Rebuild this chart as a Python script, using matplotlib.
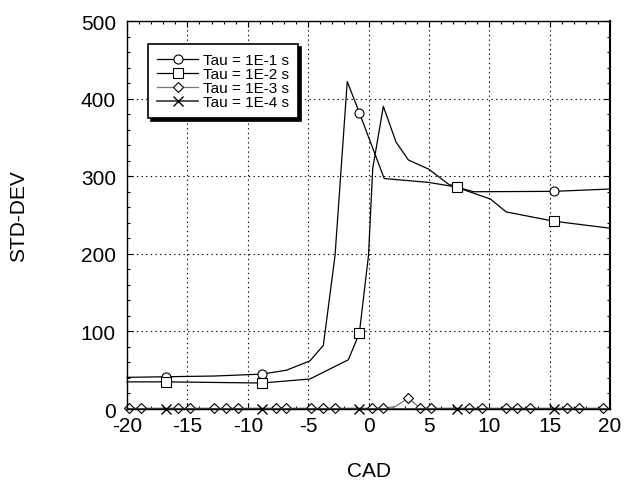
import numpy as np
import matplotlib
matplotlib.use('Agg')
import matplotlib.pyplot as plt
from matplotlib.ticker import MultipleLocator

plt.rcParams['font.family'] = ['Liberation Sans', 'DejaVu Sans']
plt.rcParams['axes.unicode_minus'] = False

# Tau = 1E-1 s (circles)
tau1_x = [-20, -16.8, -12.8, -8.8, -6.8, -4.85, -3.74, -2.77, -1.76, -0.76, 1.3, 5.0, 7.3, 8.7, 15.36, 20]
tau1_y = [40.8, 41.6, 42.5, 45, 50, 62, 82, 198, 422, 382, 297, 292, 286, 280, 280.5, 283.5]
tau1_marks = [1, 3, 9, 12, 14]

# Tau = 1E-2 s (squares)
tau2_x = [-20, -16.8, -8.8, -4.85, -1.67, -0.76, 0.0, 0.35, 1.23, 2.28, 3.3, 5.0, 6.6, 7.3, 10.1, 11.4, 15.36, 20]
tau2_y = [35, 35, 33.5, 38.7, 63.5, 97.5, 198, 310, 390, 344, 321, 309, 290, 285.7, 270.6, 254, 242, 233]
tau2_marks = [1, 2, 5, 13, 16]

# Tau = 1E-3 s (diamonds)
tau3_x = [-19.8, -18.8, -15.8, -14.8, -12.8, -11.8, -10.8, -7.7, -6.8, -4.8, -3.8, -2.8,
          0.25, 1.2, 2.2, 3.3, 4.3, 5.2, 8.3, 9.4, 11.4, 12.3, 13.4, 16.4, 17.4, 19.4]
tau3_y = [1, 1, 1, 1, 1, 1, 1, 1, 1, 1, 1, 1,
          1, 1, 3, 14, 1, 1, 1, 1, 1, 1, 1, 1, 1, 1]
tau3_marks = [i for i in range(len(tau3_x)) if i != 14]

# Tau = 1E-4 s (crosses)
tau4_x = [-20, -16.8, -8.8, -0.76, 7.3, 15.36, 20]
tau4_y = [0, 0, 0, 0, 0, 0, 0]
tau4_marks = [1, 2, 3, 4, 5]

labels = ['Tau = 1E-1 s', 'Tau = 1E-2 s', 'Tau = 1E-3 s', 'Tau = 1E-4 s']

fig = plt.figure(figsize=(6.25, 4.85), dpi=100)
ax = fig.add_axes([0.2032, 0.1546, 0.7728, 0.8])

mk = dict(markerfacecolor='white', markeredgecolor='black', markeredgewidth=0.8, clip_on=False)
ax.plot(tau1_x, tau1_y, color='black', lw=0.9, marker='o', ms=6.5, markevery=tau1_marks, label=labels[0], **mk)
ax.plot(tau2_x, tau2_y, color='black', lw=0.9, marker='s', ms=6.5, markevery=tau2_marks, label=labels[1], **mk)
ax.plot(tau3_x, tau3_y, color='#777777', lw=0.9, marker='D', ms=5.5, markevery=tau3_marks, label=labels[2], **mk)
ax.plot(tau4_x, tau4_y, color='#333333', lw=1.2, marker='x', ms=6.5, markevery=tau4_marks,
        markeredgecolor='black', label=labels[3], clip_on=False)

ax.set_xlim(-20, 20)
ax.set_ylim(0, 500)
ax.xaxis.set_major_locator(MultipleLocator(5))
ax.xaxis.set_minor_locator(MultipleLocator(1))
ax.yaxis.set_major_locator(MultipleLocator(100))
ax.yaxis.set_minor_locator(MultipleLocator(20))
ax.tick_params(which='both', direction='in', top=True, right=True, width=0.8)
ax.tick_params(which='major', length=4.5)
ax.tick_params(which='minor', length=2.5)
ax.tick_params(axis='x', labelsize=15, pad=5)
ax.tick_params(axis='y', labelsize=15, pad=8)
ax.grid(True, which='major', color='black', linestyle=(0, (1.2, 3)), linewidth=0.8)
for s in ax.spines.values():
    s.set_linewidth(1.0)
ax.spines['right'].set_linewidth(1.5)

ax.set_xlabel('CAD', fontsize=15)
ax.set_ylabel('STD-DEV', fontsize=15)
ax.xaxis.set_label_coords(0.5, -0.135)
ax.yaxis.set_label_coords(-0.205, 0.5)

leg = ax.legend(loc='upper left', bbox_to_anchor=(0.0435, 0.941), borderaxespad=0,
                fontsize=11, fancybox=False, shadow={'color': 'black', 'alpha': 1},
                edgecolor='black', framealpha=1, labelspacing=0.0, handlelength=2.7,
                handletextpad=0.3, borderpad=0.6)
leg.get_frame().set_linewidth(1.2)

fig.savefig('out.png', dpi=100)
